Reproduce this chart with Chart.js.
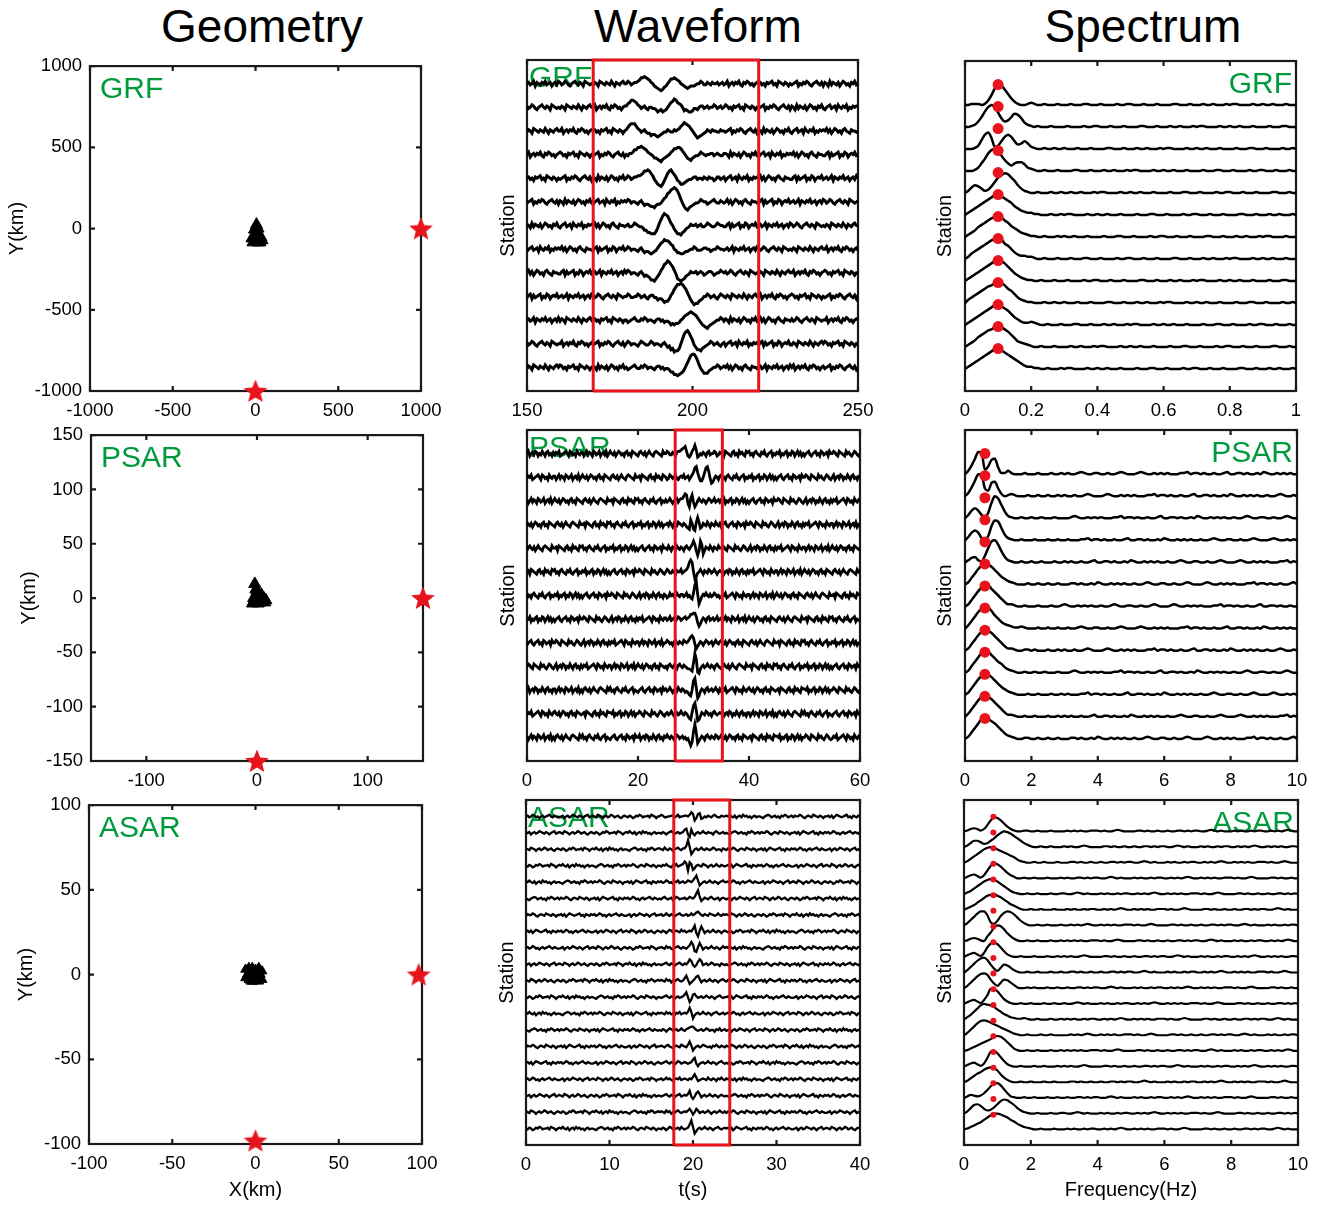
<!DOCTYPE html>
<html>
<head>
<meta charset="utf-8">
<title>Geometry / Waveform / Spectrum</title>
<script src="https://cdn.jsdelivr.net/npm/chart.js@4.4.1/dist/chart.umd.min.js"></script>
<style>
  html, body { margin: 0; padding: 0; background: #fff; overflow: hidden; }
  #page { position: relative; width: 1325px; height: 1205px; font-family: 'Liberation Sans', Arial, Helvetica, sans-serif; }
  .col-title { position: absolute; top: 3px; width: 300px; text-align: center; font-size: 46px; line-height: 46px; color: #000; }
  canvas { position: absolute; }
</style>
</head>
<body>
<div id="page">
  <div class="col-title" style="left:112px">Geometry</div>
  <div class="col-title" style="left:548px">Waveform</div>
  <div class="col-title" style="left:993px">Spectrum</div>
</div>
<script>
// ---------- array geometry (km) ----------
const grfSrcX = [0, 1000], grfSrcY = [-1000, 0];
const psarSrcX = [0, 150], psarSrcY = [-150, 0];
const asarSrcX = [0, 98], asarSrcY = [-98, 0];

const grfStaX = [6, -6, 9, 21, 33, -3, 39, 3, 15, -15, 27, -21, 15];
const grfStaY = [24, -6, -24, -42, -54, -42, -72, -72, -85, -85, -85, -60, 0];
const psarStaX = [-2, 0, -3, 6, 8, -1, -4, 3, -1, 4, 1, -3, 7];
const psarStaY = [13, 6, -3, 0, -2, 2, -5, -4, 8, 3, -5, 0, -4];
const asarStaX = [-6, -4, -2, 0, 2, 4, -5, -3, -1, 1, 3, -6, -4, -2, 0, 2, 4, -3, -1, 1];
const asarStaY = [3, 4, 4, 3, 4, 2, 0, 1, 0, 1, 0, -2, -3, -4, -3, -4, -3, -4, -4, -1];

// ---------- tick labels ----------
const grfGeoTicks = [-1000, -500, 0, 500, 1000];
const psarGeoTicksX = [-100, 0, 100];
const psarGeoTicksY = [-150, -100, -50, 0, 50, 100, 150];
const asarGeoTicks = [-100, -50, 0, 50, 100];
const grfTimeTicks = [150, 200, 250];
const psarTimeTicks = [0, 20, 40, 60];
const asarTimeTicks = [0, 10, 20, 30, 40];
const grfFreqTicks = [0, 0.2, 0.4, 0.6, 0.8, 1];
const sarFreqTicks = [0, 2, 4, 6, 8, 10];

// ---------- waveforms ----------
// one string per station (top to bottom), one letter per sample,
// 'm' = zero, each letter step = 0.05 of the trace spacing
const grfTime = [150, 250], grfWindow = [170, 220];   // 0.5 s samples
const grfWaves = [
  "mnlmoknmlnmolmnkmnlo nlmonlkmnomlnmkonmlm lnmkonmlnmlomknmlnom monlmnnopr rsrqpnmkji hghjkmoqqr qpomlkjijk kklmmonlln mlnmmnlmnl mokmnlnmolknmonlmkmn onlmknmnolmkonmlnmkm lmnokmlnmonlkmnomlnk nmkolnmlnkmonlmknmol m",
  "nlmonlkmnomlnmkonmlm lnmkonmlnmlomknmlnom mokmnlnmolknmonlmkmn npqssrqonl mnlkmmllki jkijkmoqrt sqpomjkjii jllkmnnlmn lmmonlmnlm onlmknmnolmkonmlnmkm lmnokmlnmonlkmnomlnk nmkolnmlnkmonlmknmol kmnolmnkomlnmokmlnmn n",
  "lnmkonmlnmlomknmlnom mokmnlnmolknmonlmkmn onlmknmnolmkonmlnmkm nprsssqonl mnlkkijjih ijkllnmlln mnoqrtsrqo mkighijkln mlnmmllnmm lmnokmlnmonlkmnomlnk nmkolnmlnkmonlmknmol kmnolmnkomlnmokmlnmn molnkmonlmknomlknmml m",
  "mokmnlnmolknmonlmkmn onlmknmnolmkonmlnmkm lmnokmlnmonlkmnomlnk mlnnoqqsst srqonmljji hgijklmopr rssrpnljih jkllmonmlm mnnlmnmlln nmkolnmlnkmonlmknmol kmnolmnkomlnmokmlnmn molnkmonlmknomlknmml lnoknlmnokmlonkmnmol l",
  "onlmknmnolmkonmlnmkm lmnokmlnmonlkmnomlnk nmkolnmlnkmonlmknmol monlmnnoop qsstsqoljh gfhknqstrp nkjhhijkll mnnlmmlnml nmmklnnlmn kmnolmnkomlnmokmlnmn molnkmonlmknomlknmml lnoknlmnokmlonkmnmol mnlmoknmlnmolmnkmnlo m",
  "lmnokmlnmonlkmnomlnk nmkolnmlnkmonlmknmol kmnolmnkomlnmokmlnmn monlmmlkmn ljkkjiihjk klnpqtuwxy xvsoligfhi jkllmonmmk lmnomllnml molnkmonlmknomlknmml lnoknlmnokmlonkmnmol mnlmoknmlnmolmnkmnlo nlmonlkmnomlnmkonmlm n",
  "nmkolnmlnkmonlmknmol kmnolmnkomlnmokmlnmn molnkmonlmknomlknmml mnllmonmll kiiggfffhk oruwvuromj hffeghjkln mmnlmnllmo nmllmonmml lnoknlmnokmlonkmnmol mnlmoknmlnmolmnkmnlo nlmonlkmnomlnmkonmlm lnmkonmlnmlomknmlnom m",
  "kmnolmnkomlnmokmlnmn molnkmonlmknomlknmml lnoknlmnokmlonkmnmol monlmmlkmn ljkkjijkln prsuttsqpm ljjiijkklm monlllmnnm mklmmonmml mnlmoknmlnmolmnkmnlo nlmonlkmnomlnmkonmlm lnmkonmlnmlomknmlnom mokmnlnmolknmonlmkmn l",
  "molnkmonlmknomlknmml lnoknlmnokmlonkmnmol mnlmoknmlnmolmnkmnlo monlmmlkmn ljkjiggfhj loqtuwvtro lhgfghjkln mmnlmnmklm nnmklmmonm nlmonlkmnomlnmkonmlm lnmkonmlnmlomknmlnom mokmnlnmolknmonlmkmn onlmknmnolmkonmlnmkm m",
  "lnoknlmnokmlonkmnmol mnlmoknmlnmolmnkmnlo nlmonlkmnomlnmkonmlm monllmmonl mnlkmnnllj kkjhiiknps uwwxwuspmj hfggijkmmo nlmnlkmonm lnmkonmlnmlomknmlnom mokmnlnmolknmonlmkmn onlmknmnolmkonmlnmkm lmnokmlnmonlkmnomlnk n",
  "mnlmoknmlnmolmnkmnlo lnmkonmlnmlomknmlnom onlmknmnolmkonmlnmkm mklmnomlln monlmmlkmn nlmkllkiji jjkmnpqrst srqomkihgf hijklmmonl nmkolnmlnkmonlmknmol molnkmonlmknomlknmml nlmonlkmnomlnmkonmlm mokmnlnmolknmonlmkmn m",
  "nlmonlkmnomlnmkonmlm mokmnlnmolknmonlmkmn lmnokmlnmonlkmnomlnk monlmmlkmo nmllmonlmm lkmnljkhif ggimquwxvs pljhhgijkl monlmnlkmn kmnolmnkomlnmokmlnmn lnoknlmnokmlonkmnmol lnmkonmlnmlomknmlnom onlmknmnolmkonmlnmkm l",
  "lnmkonmlnmlomknmlnom onlmknmnolmkonmlnmkm nmkolnmlnkmonlmknmol mklmnomlln monlmmlkmn nlmkllkiig gfghiknqtw xxvsoljhhh jklmmonlmn molnkmonlmknomlknmml mnlmoknmlnmolmnkmnlo mokmnlnmolknmonlmkmn lmnokmlnmonlkmnomlnk m",
];

const psarTime = [0, 60], psarWindow = [26.7, 35.2];   // 0.25 s samples
const psarWaves = [
  "mokmnlonkmlomknolmkn lnmoklmnomkonlmkomln nkmolnmkonlmokmnlokm omlnkmonlmknolmkonml knomlnkmomlknonmlkom monllnmkno opqrsokjlo qtpjkmlnmk nolmmonkln mnkonmlknolmkomnlkon olmknomlknmolkmnokml nmokmlnokmlonkmolnkm kmnolkmnolmkonlmnkom monlkonmlkomnlkmonlk m",
  "lnmoklmnomkonlmkomln nkmolnmkonlmokmnlokm omlnkmonlmknolmkonml knomlnkmomlknonmlkom mnkonmlknolmkomnlkon mklonlmolk mnmolmnkmo quvqmjjmqu vrlhilnmkn olmknomlknmolkmnokml nmokmlnokmlonkmolnkm kmnolkmnolmkonlmnkom monlkonmlkomnlkmonlk mokmnlonkmlomknolmkn n",
  "nkmolnmkonlmokmnlokm omlnkmonlmknolmkonml knomlnkmomlknonmlkom mnkonmlknolmkomnlkon olmknomlknmolkmnokml nlmomkmnol nooqsrkhor lhjmomlnmk monlmolmnl nmokmlnokmlonkmolnkm kmnolkmnolmkonlmnkom monlkonmlkomnlkmonlk mokmnlonkmlomknolmkn lnmoklmnomkonlmkomln m",
  "omlnkmonlmknolmkonml knomlnkmomlknonmlkom mnkonmlknolmkomnlkon olmknomlknmolkmnokml nmokmlnokmlonkmolnkm mnlomknmlo nmlnmkjiqn ihosojknml omknmlomln kmnolkmnolmkonlmnkom monlkonmlkomnlkmonlk mokmnlonkmlomknolmkn lnmoklmnomkonlmkomln nkmolnmkonlmokmnlokm l",
  "knomlnkmomlknonmlkom mnkonmlknolmkomnlkon olmknomlknmolkmnokml nmokmlnokmlonkmolnkm kmnolkmnolmkonlmnkom mlomknmlom lnmknomlnp spkgksphkn mlomknmlom monlkonmlkomnlkmonlk mokmnlonkmlomknolmkn lnmoklmnomkonlmkomln nkmolnmkonlmokmnlokm omlnkmonlmknolmkonml m",
  "mnkonmlknolmkomnlkon olmknomlknmolkmnokml nmokmlnokmlonkmolnkm kmnolkmnolmkonlmnkom monlkonmlkomnlkmonlk monllnmknm molmnoquwu mgilmomknm lonlmomkmn mokmnlonkmlomknolmkn lnmoklmnomkonlmkomln nkmolnmkonlmokmnlokm omlnkmonlmknolmkonml knomlnkmomlknonmlkom n",
  "olmknomlknmolkmnokml nmokmlnokmlonkmolnkm kmnolkmnolmkonlmnkom monlkonmlkomnlkmonlk mokmnlonkmlomknolmkn mklomnlmom lnnlmolmkj ovynfilnmo mlnlmonlmk lnmoklmnomkonlmkomln nkmolnmkonlmokmnlokm omlnkmonlmknolmkonml knomlnkmomlknonmlkom mnkonmlknolmkomnlkon m",
  "nmokmlnokmlonkmolnkm kmnolkmnolmkonlmnkom monlkonmlkomnlkmonlk mokmnlonkmlomknolmkn lnmoklmnomkonlmkomln nlmolmnkmo nlmnomnoqq rrojgilnmk nolmnlmolm nkmolnmkonlmokmnlokm omlnkmonlmknolmkonml knomlnkmomlknonmlkom mnkonmlknolmkomnlkon olmknomlknmolkmnokml l",
  "kmnolkmnolmkonlmnkom monlkonmlkomnlkmonlk mokmnlonkmlomknolmkn lnmoklmnomkonlmkomln nkmolnmkonlmokmnlokm monlmknoml nmlonmnprs qlhjlnmkmo nlmnkmomln omlnkmonlmknolmkonml knomlnkmomlknonmlkom mnkonmlknolmkomnlkon olmknomlknmolkmnokml nmokmlnokmlonkmolnkm m",
  "monlkonmlkomnlkmonlk mokmnlonkmlomknolmkn lnmoklmnomkonlmkomln nkmolnmkonlmokmnlokm omlnkmonlmknolmkonml mknomlnmkn omlnmlkkji pxshgkmnlm omlnmknoml knomlnkmomlknonmlkom mnkonmlknolmkomnlkon olmknomlknmolkmnokml nmokmlnokmlonkmolnkm kmnolkmnolmkonlmnkom n",
  "mokmnlonkmlomknolmkn nkmolnmkonlmokmnlokm knomlnkmomlknonmlkom olmknomlknmolkmnokml kmnolkmnolmkonlmnkom nlmomkmnlo mlnmklkihm uwofhlnmkn olmnlmomkn lnmoklmnomkonlmkomln omlnkmonlmknolmkonml mnkonmlknolmkomnlkon nmokmlnokmlonkmolnkm monlkonmlkomnlkmonlk m",
  "lnmoklmnomkonlmkomln omlnkmonlmknolmkonml mnkonmlknolmkomnlkon nmokmlnokmlonkmolnkm monlkonmlkomnlkmonlk mnlmomkmnl momlnmkihn tvpghknmlo nlmknomlmn mokmnlonkmlomknolmkn nkmolnmkonlmokmnlokm knomlnkmomlknonmlkom olmknomlknmolkmnokml kmnolkmnolmkonlmnkom l",
  "nkmolnmkonlmokmnlokm knomlnkmomlknonmlkom olmknomlknmolkmnokml kmnolkmnolmkonlmnkom mokmnlonkmlomknolmkn momlnmkmon lmnlmklifi rxqhjlnmkn omlnmlonlm omlnkmonlmknolmkonml mnkonmlknolmkomnlkon nmokmlnokmlonkmolnkm monlkonmlkomnlkmonlk lnmoklmnomkonlmkomln m",
];

const asarTime = [0, 40], asarWindow = [17.7, 24.4];   // 0.2 s samples
const asarWaves = [
  "mnlmonlmkmnlmnomlnml lmnkmnlmonmlnmkmnolm nmlonmkmnlmonlmnlkmn mlnmklnmonlmmnlonmkm monllmmnnl molmmnnmor phkpqjkmln mlnomllnmm nmomlnkmnlomnlmkmnlm mlkmnonlmnlmknmonlmn lnmmonlkmnmlonmlnmkm mnlnkmonmlmnolmknmln m",
  "lmnkmnlmonmlnmkmnolm nmlonmkmnlmonlmnlkmn mlnmklnmonlmmnlonmkm nmomlnkmnlomnlmkmnlm mlnmkmnoml mnlmnqrkhq ljmnlmomln mmknomlmnl mlkmnonlmnlmknmonlmn lnmmonlkmnmlonmlnmkm mnlnkmonmlmnolmknmln mnlmonlmkmnlmnomlnml n",
  "nmlonmkmnlmonlmnlkmn mlnmklnmonlmmnlonmkm nmomlnkmnlomnlmkmnlm mlkmnonlmnlmknmonlmn nmlomlnmkm nomlnnqxpg jmnlmomlnm lmonlmmknm lnmmonlkmnmlonmlnmkm mnlnkmonmlmnolmknmln mnlmonlmkmnlmnomlnml lmnkmnlmonmlnmkmnolm l",
  "mlnmklnmonlmmnlonmkm nmomlnkmnlomnlmkmnlm mlkmnonlmnlmknmonlmn lnmmonlkmnmlonmlnmkm mlnmomlknm olmnorpgqo hjmnmlonmk mnlmomlnml mnlnkmonmlmnolmknmln mnlmonlmkmnlmnomlnml lmnkmnlmonmlnmkmnolm nmlonmkmnlmonlmnlkmn m",
  "nmomlnkmnlomnlmkmnlm mlkmnonlmnlmknmonlmn lnmmonlkmnmlonmlnmkm mnlnkmonmlmnolmknmln mnlmonlmkn molmnlmonm oruoikmnlm omlnmkmnom mnlmonlmkmnlmnomlnml lmnkmnlmonmlnmkmnolm nmlonmkmnlmonlmnlkmn mlnmklnmonlmmnlonmkm n",
  "mlkmnonlmnlmknmonlmn lnmmonlkmnmlonmlnmkm mnlnkmonmlmnolmknmln mnlmonlmkmnlmnomlnml mlnomlmnkm onlmmnlmon moswojlnml nomlmnkmnm lmnkmnlmonmlnmkmnolm nmlonmkmnlmonlmnlkmn mlnmklnmonlmmnlonmkm nmomlnkmnlomnlmkmnlm m",
  "lnmmonlkmnmlonmlnmkm mnlnkmonmlmnolmknmln mnlmonlmkmnlmnomlnml lmnkmnlmonmlnmkmnolm mnlmomlnmk mnomlmnlmo mnpqomlnml onmlmomlnm nmlonmkmnlmonlmnlkmn mlnmklnmonlmmnlonmkm nmomlnkmnlomnlmkmnlm mlkmnonlmnlmknmonlmn l",
  "mnlnkmonmlmnolmknmln mnlmonlmkmnlmnomlnml lmnkmnlmonmlnmkmnolm nmlonmkmnlmonlmnlkmn mlnmkmonlm nmlomnlmnm ptkgnsokmn lmomlnmkmn mlnmklnmonlmmnlonmkm nmomlnkmnlomnlmkmnlm mlkmnonlmnlmknmonlmn lnmmonlkmnmlonmlnmkm m",
  "mnlmonlmkmnlmnomlnml lmnkmnlmonmlnmkmnolm nmlonmkmnlmonlmnlkmn mlnmklnmonlmmnlonmkm mnmlomnlkm nomlnmlnpt qihnsokmnl momlnmkmom nmomlnkmnlomnlmkmnlm mlkmnonlmnlmknmonlmn lnmmonlkmnmlonmlnmkm mnlnkmonmlmnolmknmln n",
  "lmnkmnlmonmlnmkmnolm nmlonmkmnlmonlmnlkmn mlnmklnmonlmmnlonmkm nmomlnkmnlomnlmkmnlm mlmnomlnmk mnomlnmosq ljlpsqlmnl monlmmknml mlkmnonlmnlmknmonlmn lnmmonlkmnmlonmlnmkm mnlnkmonmlmnolmknmln mnlmonlmkmnlmnomlnml m",
  "nmlonmkmnlmonlmnlkmn mlnmklnmonlmmnlonmkm nmomlnkmnlomnlmkmnlm mlkmnonlmnlmknmonlmn mnmlomnkml nomlmpsnik morsokmnlm omlnmkmnom lnmmonlkmnmlonmlnmkm mnlnkmonmlmnolmknmln mnlmonlmkmnlmnomlnml lmnkmnlmonmlnmkmnolm l",
  "mlnmklnmonlmmnlonmkm nmomlnkmnlomnlmkmnlm mlkmnonlmnlmknmonlmn lnmmonlkmnmlonmlnmkm mlmnomlnmk mnlmnpsmgj pqnlmnlmom lnmkmnomlm mnlnkmonmlmnolmknmln mnlmonlmkmnlmnomlnml lmnkmnlmonmlnmkmnolm nmlonmkmnlmonlmnlkmn m",
  "nmomlnkmnlomnlmkmnlm mlkmnonlmnlmknmonlmn lnmmonlkmnmlonmlnmkm mnlnkmonmlmnolmknmln mnmlomnlmk nmolmnmoto gkmnlmomln mkmnomlmnl mnlmonlmkmnlmnomlnml lmnkmnlmonmlnmkmnolm nmlonmkmnlmonlmnlkmn mlnmklnmonlmmnlonmkm n",
  "mlkmnonlmnlmknmonlmn lnmmonlkmnmlonmlnmkm mnlnkmonmlmnolmknmln mnlmonlmkmnlmnomlnml mlnmkmonlm nlmomlnopq qomlmnlmon lmmknmolmn lmnkmnlmonmlnmkmnolm nmlonmkmnlmonlmnlkmn mlnmklnmonlmmnlonmkm nmomlnkmnlomnlmkmnlm m",
  "lnmmonlkmnmlonmlnmkm mnlnkmonmlmnolmknmln mnlmonlmkmnlmnomlnml lmnkmnlmonmlnmkmnolm mnmlnomlkm nmlonmlosn hkmnlmonml mknmomlnml nmlonmkmnlmonlmnlkmn mlnmklnmonlmmnlonmkm nmomlnkmnlomnlmkmnlm mlkmnonlmnlmknmonlmn l",
  "mnlnkmonmlmnolmknmln mnlmonlmkmnlmnomlnml lmnkmnlmonmlnmkmnolm nmlonmkmnlmonlmnlkmn mlmnomlnmk monlmnmlmn qslilmnlmo mlnmkmnoml mlnmklnmonlmmnlonmkm nmomlnkmnlomnlmkmnlm mlkmnonlmnlmknmonlmn lnmmonlkmnmlonmlnmkm m",
  "mnlmonlmkmnlmnomlnml lmnkmnlmonmlnmkmnolm nmlonmkmnlmonlmnlkmn mlnmklnmonlmmnlonmkm mnlmomnlkm nmolmnmlnm psoklmnmlo mlnmknmoml nmomlnkmnlomnlmkmnlm mlkmnonlmnlmknmonlmn lnmmonlkmnmlonmlnmkm mnlnkmonmlmnolmknmln n",
  "lmnkmnlmonmlnmkmnolm nmlonmkmnlmonlmnlkmn mlnmklnmonlmmnlonmkm nmomlnkmnlomnlmkmnlm mlmnomlnmk mnolmnmosl ilprokmnlm omlnmkmnml mlkmnonlmnlmknmonlmn lnmmonlkmnmlonmlnmkm mnlnkmonmlmnolmknmln mnlmonlmkmnlmnomlnml m",
  "nmlonmkmnlmonlmnlkmn mlnmklnmonlmmnlonmkm nmomlnkmnlomnlmkmnlm mlkmnonlmnlmknmonlmn mnmlomnkml nomlmnmoqn jmqolmnlmo mkmnlmomln lnmmonlkmnmlonmlnmkm mnlnkmonmlmnolmknmln mnlmonlmkmnlmnomlnml lmnkmnlmonmlnmkmnolm l",
  "mlnmklnmonlmmnlonmkm nmomlnkmnlomnlmkmnlm mlkmnonlmnlmknmonlmn lnmmonlkmnmlonmlnmkm mlnmkmonlm mnlomlmnrw ogjmnlmoml nmkmnomlmn mnlnkmonmlmnolmknmln mnlmonlmkmnlmnomlnml lmnkmnlmonmlnmkmnolm nmlonmkmnlmonlmnlkmn m",
];

// ---------- amplitude spectra ----------
// 'a' = zero, each letter step = 0.05 of the trace spacing
const grfFreq = [0, 1], grfPick = 0.1;
const grfSpectra = [
  "aabbbabejp tsokgdbaab cbaabaaaba aabaaabbaa abaaaabaab baaabaaaba aaabbaaaba aabaabaaab abbaaaabaa baabaaabaa a",
  "aabcfjosus nifgjmliec babaaabaaa abaaaabaab baaabaaaba aaabbaaaba aabaabaaab abbaaaabaa baabaaabaa aabaaabbaa a",
  "aaabdinpkc dhlnlhefhf cbaabaabaa baaabaaaba aaabbaaaba aabaabaaab abbaaaabaa baabaaabaa aabaaabbaa abaaaabaab a",
  "aaabdhlqtu sokhfhiigd cbaabaaaba aaabbaaaba aabaabaaab abbaaaabaa baabaaabaa aabaaabbaa abaaaabaab baaabaaaba a",
  "acfhgecdgk oqsrolhecb aabaaabaab aabaabaaab abbaaaabaa baabaaabaa aabaaabbaa abaaaabaab baaabaaaba aaabbaaaba a",
  "acegikmoqs trpnligedc cbbaaabaab abbaaaabaa baabaaabaa aabaaabbaa abaaaabaab baaabaaaba aaabbaaaba aabaabaaab a",
  "acegjlnprs tspnkigedc bbaabaaaba baabaaabaa aabaaabbaa abaaaabaab baaabaaaba aaabbaaaba aabaabaaab abbaaaabaa a",
  "acfhjlnprs tsomjgeddc cbaabaaaba aabaaabbaa abaaaabaab baaabaaaba aaabbaaaba aabaabaaab abbaaaabaa baabaaabaa a",
  "acegikmoqs tsqnkhfdcb baabaaabaa abaaaabaab baaabaaaba aaabbaaaba aabaabaaab abbaaaabaa baabaaabaa aabaaabbaa a",
  "adfhjlnpqs tsqnlifdcb baaabaabaa baaabaaaba aaabbaaaba aabaabaaab abbaaaabaa baabaaabaa aabaaabbaa abaaaabaab a",
  "acegikmoqs trpnkhfdcc dcbaabaaab aaabbaaaba aabaabaaab abbaaaabaa baabaaabaa aabaaabbaa abaaaabaab baaabaaaba a",
  "acegjlnpqs tsqolifedc baabaaabaa aabaabaaab abbaaaabaa baabaaabaa aabaaabbaa abaaaabaab baaabaaaba aaabbaaaba a",
  "acegikmoqs trpnljhfdc cbbaabaaab abbaaaabaa baabaaabaa aabaaabbaa abaaaabaab baaabaaaba aaabbaaaba aabaabaaab a",
];

const psarFreq = [0, 10], psarPick = 0.6;
const psarSpectra = [
  "adioutehno gbbdbaaaba aabaaabaab abaabcbaab baabaabcba aabcbaabab abaaabbcab babaabaabc aabbabaaba cbaabababa a",
  "adiouthfmn hcabcbaaab aabaabaaba baabaabcba aabcbaabab abaaabbcab babaabaabc aabbabaaba cbaabababa abaabcbaab a",
  "adhjhdbfou smgcbaabaa baabaaabaa aabcbaabab abaaabbcab babaabaabc aabbabaaba cbaabababa abaabcbaab baabaabcba a",
  "adhjhcaens rlfcbaabaa abaaabaaba abaaabbcab babaabaabc aabbabaaba cbaabababa abaabcbaab baabaabcba aabcbaabab a",
  "acefcbgntu qkfcbaabaa baabaaabaa babaabaabc aabbabaaba cbaabababa abaabcbaab baabaabcba aabcbaabab abaaabbcab a",
  "acgkortsqn khfdcbaaab aabaabaaba aabbabaaba cbaabababa abaabcbaab baabaabcba aabcbaabab abaaabbcab babaabaabc a",
  "acgkorttqn kheccbaaba aabaaabaab cbaabababa abaabcbaab baabaabcba aabcbaabab abaaabbcab babaabaabc aabbabaaba a",
  "adhlpsutqm jgedcbbcba aabaabaaba abaabcbaab baabaabcba aabcbaabab abaaabbcab babaabaabc aabbabaaba cbaabababa a",
  "acgkortsqn kheccbaabb abaaabaaba baabaabcba aabcbaabab abaaabbcab babaabaabc aabbabaaba cbaabababa abaabcbaab a",
  "acgkosutqn kifdcbaaba abaabaaaba aabcbaabab abaaabbcab babaabaabc aabbabaaba cbaabababa abaabcbaab baabaabcba a",
  "acgkortsqn khfdcbaaab aabaaabaab abaaabbcab babaabaabc aabbabaaba cbaabababa abaabcbaab baabaabcba aabcbaabab a",
  "adhlpstsqn kheccbaaba abaaabaaba babaabaabc aabbabaaba cbaabababa abaabcbaab baabaabcba aabcbaabab abaaabbcab a",
  "acgkostsqo lifdcbaabb aabaabaaba aabbabaaba cbaabababa abaabcbaab baabaabcba aabcbaabab abaaabbcab babaabaabc a",
];

const asarFreq = [0, 10], asarPick = 0.88;
const asarSpectra = [
  "abdedbdios rokgdbaabb aabaaabaaa abababaabb babaabcbaa aabbabaaba abaabbabab baabcbabaa ababaababb aabababcba a",
  "acfiigefil psutrolifd baabaabaaa babaabcbaa aabbabaaba abaabbabab baabcbabaa ababaababb aabababcba abababaabb a",
  "acfilortut rpnljhecba abaabaaaba aabbabaaba abaabbabab baabcbabaa ababaababb aabababcba abababaabb babaabcbaa a",
  "acefdbekqu splhecaaba abaaabaaab abaabbabab baabcbabaa ababaababb aabababcba abababaabb babaabcbaa aabbabaaba a",
  "acehknqsts qnkhecbaab aabaaabaab baabcbabaa ababaababb aabababcba abababaabb babaabcbaa aabbabaaba abaabbabab a",
  "acegjmpstu sqnkhfdbaa baabaaabaa ababaababb aabababcba abababaabb babaabcbaa aabbabaaba abaabbabab baabcbabaa a",
  "adhlpssnec gmqsrokgdb aabaabaaab aabababcba abababaabb babaabcbaa aabbabaaba abaabbabab baabcbabaa ababaababb a",
  "abdedbaglr utpkgdbaab aabaaabaab abababaabb babaabcbaa aabbabaaba abaabbabab baabcbabaa ababaababb aabababcba a",
  "acefdbfmrs qmhdbaabaa abaaabaaba babaabcbaa aabbabaaba abaabbabab baabcbabaa ababaababb aabababcba abababaabb a",
  "adhlpstqkf cgkjgdbaab aabaaabaab aabbabaaba abaabbabab baabcbabaa ababaababb aabababcba abababaabb babaabcbaa a",
  "adhlpstrlg dhlkhebaab abaaabaaba abaabbabab baabcbabaa ababaababb aabababcba abababaabb babaabcbaa aabbabaaba a",
  "acefdbfltt qlgdbaabaa baaabaabaa baabcbabaa ababaababb aabababcba abababaabb babaabcbaa aabbabaaba abaabbabab a",
  "adgkosutsq nkhfdcbbcb aabaaabaab ababaababb aabababcba abababaabb babaabcbaa aabbabaaba abaabbabab baabcbabaa a",
  "adhlpstsqo mkigecbaab aaabaabaaa aabababcba abababaabb babaabcbaa aabbabaaba abaabbabab baabcbabaa ababaababb a",
  "abdfhjlnps tsplhdbaab aabaaabaab abababaabb babaabcbaa aabbabaaba abaabbabab baabcbabaa ababaababb aabababcba a",
  "acefdbeltu rmhdbaabaa abaabaaaba babaabcbaa aabbabaaba abaabbabab baabcbabaa ababaababb aabababcba abababaabb a",
  "acfilnqsts pkgdbaabaa baaabaabaa aabbabaaba abaabbabab baabcbabaa ababaababb aabababcba abababaabb babaabcbaa a",
  "acedcdgkps tqlgcbaaba abaaabaaba abaabbabab baabcbabaa ababaababb aabababcba abababaabb babaabcbaa aabbabaaba a",
  "adhlmkgefi mqsrolhecb aabaaabaab baabcbabaa ababaababb aabababcba abababaabb babaabcbaa aabbabaaba abaabbabab a",
  "abdfhjmpsu utrpmkhfdc baabaaabaa ababaababb aabababcba abababaabb babaabcbaa aabbabaaba abaabbabab baabcbabaa a",
];
const pickAmp = 0.93;

// ---------- drawing ----------
const FONT = "'Liberation Sans', Arial, Helvetica, sans-serif";
const RED = '#e8141b', GREEN = '#009a3d';
const LEVEL_STEP = 0.05;
const TICK_SIZE = 18.5, LABEL_SIZE = 20;
Chart.defaults.font.family = FONT;
Chart.defaults.color = '#000';

const page = document.getElementById('page');

function decode(str, zero) {
  const z = zero.charCodeAt(0);
  return Array.from(str.replace(/\s+/g, ''), ch => (ch.charCodeAt(0) - z) * LEVEL_STEP);
}

// evenly sampled trace, shifted up to its station slot
function traceSeries(str, range, offset, zero) {
  const v = decode(str, zero);
  const dx = (range[1] - range[0]) / (v.length - 1);
  return v.map((y, k) => ({ x: range[0] + k * dx, y: offset + y }));
}

function starMarker(size, color) {
  const c = document.createElement('canvas');
  c.width = c.height = size;
  const g = c.getContext('2d');
  const r = size / 2, ri = r * 0.42;
  g.beginPath();
  for (let k = 0; k < 10; k++) {
    const rad = k % 2 ? ri : r - 0.5;
    const ang = -Math.PI / 2 + k * Math.PI / 5;
    g.lineTo(r + rad * Math.cos(ang), r + 1 + rad * Math.sin(ang));
  }
  g.closePath();
  g.fillStyle = color;
  g.fill();
  return c;
}
const STAR = starMarker(26, RED);

// axes box, inward ticks and the array name
const framePlugin = {
  id: 'frame',
  beforeDatasetsDraw(chart, args, o) {
    const { ctx, chartArea: a } = chart;
    const sx = chart.scales.x, sy = chart.scales.y;
    ctx.save();
    if (o.label) {
      ctx.font = '30px ' + FONT;
      ctx.fillStyle = GREEN;
      ctx.textBaseline = 'alphabetic';
      ctx.textAlign = o.align;
      const x = o.align === 'right' ? a.right - o.dx : a.left + o.dx;
      ctx.fillText(o.label, x, a.top + o.dy);
    }
    ctx.strokeStyle = '#1a1a1a';
    ctx.lineWidth = 2.2;
    ctx.strokeRect(a.left, a.top, a.width, a.height);
    ctx.beginPath();
    const t = 5;
    sx.ticks.forEach(tk => {
      const p = sx.getPixelForValue(tk.value);
      ctx.moveTo(p, a.bottom); ctx.lineTo(p, a.bottom - t);
      ctx.moveTo(p, a.top); ctx.lineTo(p, a.top + t);
    });
    if (o.yTicks) {
      sy.ticks.forEach(tk => {
        const p = sy.getPixelForValue(tk.value);
        ctx.moveTo(a.left, p); ctx.lineTo(a.left + t, p);
        ctx.moveTo(a.right, p); ctx.lineTo(a.right - t, p);
      });
    }
    ctx.stroke();
    ctx.restore();
  },
};
Chart.register(framePlugin);

const TOP_PAD = 14;

function panelCanvas(rect, left, right, bottom) {
  const c = document.createElement('canvas');
  const w = rect.x1 - left + right;
  const h = TOP_PAD + (rect.y1 - rect.y0) + bottom;
  c.width = w; c.height = h;
  c.style.left = left + 'px';
  c.style.top = (rect.y0 - TOP_PAD) + 'px';
  c.style.width = w + 'px';
  c.style.height = h + 'px';
  page.appendChild(c);
  return c;
}

function xAxis(range, ticks, height, title, titlePad) {
  return {
    type: 'linear', position: 'bottom', min: range[0], max: range[1],
    grid: { display: false, drawTicks: false },
    border: { display: false },
    ticks: { font: { size: TICK_SIZE }, color: '#000', padding: 9, maxRotation: 0, autoSkip: false, callback: v => String(v) },
    afterBuildTicks: s => { s.ticks = ticks.map(v => ({ value: v })); },
    afterFit: s => { s.height = height; },
    title: { display: !!title, text: title || '', font: { size: LABEL_SIZE }, color: '#000', padding: { top: 0, bottom: titlePad || 0 } },
  };
}

function yAxis(range, ticks, width, title, titlePad) {
  return {
    type: 'linear', position: 'left', min: range[0], max: range[1],
    grid: { display: false, drawTicks: false },
    border: { display: false },
    ticks: { display: ticks.length > 0, font: { size: TICK_SIZE }, color: '#000', padding: 8, autoSkip: false, callback: v => String(v) },
    afterBuildTicks: s => { s.ticks = ticks.map(v => ({ value: v })); },
    afterFit: s => { s.width = width; },
    title: { display: true, text: title, font: { size: LABEL_SIZE }, color: '#000', padding: { top: titlePad, bottom: 0 } },
  };
}

function drawPanel(canvas, rightPad, datasets, x, y, frame) {
  new Chart(canvas, {
    type: 'scatter',
    data: { datasets },
    options: {
      responsive: false,
      animation: false,
      events: [],
      layout: { padding: { left: 0, top: TOP_PAD, right: rightPad, bottom: 0 } },
      plugins: { legend: { display: false }, tooltip: { enabled: false }, frame },
      scales: { x, y },
    },
  });
}

// ---------- Geometry column ----------
function geometryPanel(p) {
  const canvas = panelCanvas(p.rect, 0, 30, p.bottom);
  const datasets = [
    { data: p.srcX.map((x, i) => ({ x, y: p.srcY[i] })), pointStyle: STAR, pointRadius: 13, clip: false },
    { data: p.staX.map((x, i) => ({ x, y: p.staY[i] })), pointStyle: 'triangle', pointRadius: p.tri,
      backgroundColor: '#000', borderColor: '#000', borderWidth: 1 },
  ];
  drawPanel(canvas, 30, datasets,
    xAxis(p.range, p.ticksX, p.bottom, p.xTitle, p.xTitlePad),
    yAxis(p.range, p.ticksY, p.rect.x0, 'Y(km)', p.yTitlePad),
    { label: p.label, align: 'left', dx: 10, dy: 32, yTicks: true });
}

geometryPanel({ label: 'GRF', rect: { x0: 90, x1: 421, y0: 61, y1: 391 }, bottom: 40,
  range: [-1000, 1000], ticksX: grfGeoTicks, ticksY: grfGeoTicks, yTitlePad: 5,
  srcX: grfSrcX, srcY: grfSrcY, staX: grfStaX, staY: grfStaY, tri: 7 });
geometryPanel({ label: 'PSAR', rect: { x0: 91, x1: 423, y0: 430, y1: 761 }, bottom: 40,
  range: [-150, 150], ticksX: psarGeoTicksX, ticksY: psarGeoTicksY, yTitlePad: 17,
  srcX: psarSrcX, srcY: psarSrcY, staX: psarStaX, staY: psarStaY, tri: 7 });
geometryPanel({ label: 'ASAR', rect: { x0: 89, x1: 422, y0: 800, y1: 1144 }, bottom: 62,
  range: [-100, 100], ticksX: asarGeoTicks, ticksY: asarGeoTicks, yTitlePad: 14,
  xTitle: 'X(km)', xTitlePad: 4,
  srcX: asarSrcX, srcY: asarSrcY, staX: asarStaX, staY: asarStaY, tri: 5.5 });

// ---------- Waveform column ----------
function waveformPanel(p) {
  const n = p.waves.length;
  const canvas = panelCanvas(p.rect, 480, 30, p.bottom);
  const box = {
    data: [
      { x: p.window[0], y: 0 }, { x: p.window[0], y: n + 1 },
      { x: p.window[1], y: n + 1 }, { x: p.window[1], y: 0 }, { x: p.window[0], y: 0 },
    ],
    showLine: true, borderColor: RED, borderWidth: 3, pointRadius: 0, clip: false,
  };
  const traces = p.waves.map((s, i) => ({
    data: traceSeries(s, p.time, n - i, 'm'),
    showLine: true, borderColor: '#000', borderWidth: p.lw, pointRadius: 0,
    borderJoinStyle: 'miter', tension: 0,
  }));
  drawPanel(canvas, 30, [box, ...traces],
    xAxis(p.time, p.ticks, p.bottom, p.xTitle, p.xTitlePad),
    yAxis([0, n + 1], [], p.rect.x0 - 480, 'Station', p.yTitlePad),
    { label: p.label, align: 'left', dx: 2, dy: 27, yTicks: false });
}

waveformPanel({ label: 'GRF', rect: { x0: 527, x1: 858, y0: 60, y1: 391 }, bottom: 40,
  time: grfTime, ticks: grfTimeTicks, window: grfWindow, waves: grfWaves, lw: 3, yTitlePad: 16.5 });
waveformPanel({ label: 'PSAR', rect: { x0: 527, x1: 860, y0: 430, y1: 761 }, bottom: 40,
  time: psarTime, ticks: psarTimeTicks, window: psarWindow, waves: psarWaves, lw: 2.8, yTitlePad: 16.5 });
waveformPanel({ label: 'ASAR', rect: { x0: 526, x1: 860, y0: 800, y1: 1145 }, bottom: 62,
  time: asarTime, ticks: asarTimeTicks, window: asarWindow, waves: asarWaves, lw: 2.3, yTitlePad: 15,
  xTitle: 't(s)', xTitlePad: 5 });

// ---------- Spectrum column ----------
function spectrumPanel(p) {
  const n = p.spectra.length;
  const canvas = panelCanvas(p.rect, 920, 25, p.bottom);
  const picks = {
    data: p.spectra.map((s, i) => ({ x: p.pick, y: n - i + pickAmp })),
    pointStyle: 'circle', pointRadius: p.dot, backgroundColor: RED, borderColor: RED, borderWidth: 0,
  };
  const traces = p.spectra.map((s, i) => ({
    data: traceSeries(s, p.freq, n - i, 'a'),
    showLine: true, borderColor: '#000', borderWidth: p.lw, pointRadius: 0,
    cubicInterpolationMode: 'monotone', borderJoinStyle: 'round',
  }));
  drawPanel(canvas, 25, [picks, ...traces],
    xAxis(p.freq, p.ticks, p.bottom, p.xTitle, p.xTitlePad),
    yAxis([0, n + 2], [], p.rect.x0 - 920, 'Station', 13.7),
    { label: p.label, align: 'right', dx: 4, dy: 32, yTicks: false });
}

spectrumPanel({ label: 'GRF', rect: { x0: 965, x1: 1296, y0: 61, y1: 391 }, bottom: 40,
  freq: grfFreq, ticks: grfFreqTicks, pick: grfPick, spectra: grfSpectra, lw: 2.5, dot: 5.5 });
spectrumPanel({ label: 'PSAR', rect: { x0: 965, x1: 1297, y0: 430, y1: 761 }, bottom: 40,
  freq: psarFreq, ticks: sarFreqTicks, pick: psarPick, spectra: psarSpectra, lw: 2.5, dot: 5.5 });
spectrumPanel({ label: 'ASAR', rect: { x0: 964, x1: 1298, y0: 800, y1: 1145 }, bottom: 62,
  freq: asarFreq, ticks: sarFreqTicks, pick: asarPick, spectra: asarSpectra, lw: 2.2, dot: 3,
  xTitle: 'Frequency(Hz)', xTitlePad: 5 });
</script>
</body>
</html>
